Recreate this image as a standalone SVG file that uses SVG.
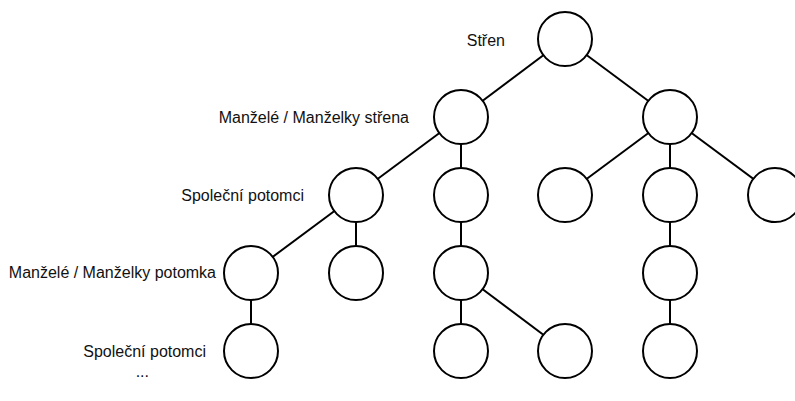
<svg xmlns="http://www.w3.org/2000/svg" width="795" height="401" viewBox="0 0 795 401">
<style>
.n{fill:#fff;stroke:#000;stroke-width:2}
.e{stroke:#000;stroke-width:2;fill:none}
.t{font-family:"Liberation Sans",Arial,sans-serif;font-size:16px;fill:#111;text-anchor:end;dominant-baseline:central}
</style>
<rect width="795" height="401" fill="#fff"/>
<g id="connectors">
<line class="e" x1="565" y1="39" x2="461" y2="117"/>
<line class="e" x1="565" y1="39" x2="670" y2="117"/>
<line class="e" x1="461" y1="117" x2="356" y2="195"/>
<line class="e" x1="461" y1="117" x2="461" y2="195"/>
<line class="e" x1="670" y1="117" x2="565" y2="195"/>
<line class="e" x1="670" y1="117" x2="670" y2="195"/>
<line class="e" x1="670" y1="117" x2="775" y2="195"/>
<line class="e" x1="356" y1="195" x2="251" y2="273"/>
<line class="e" x1="356" y1="195" x2="356" y2="273"/>
<line class="e" x1="461" y1="195" x2="461" y2="273"/>
<line class="e" x1="670" y1="195" x2="670" y2="273"/>
<line class="e" x1="251" y1="273" x2="251" y2="351"/>
<line class="e" x1="461" y1="273" x2="461" y2="351"/>
<line class="e" x1="461" y1="273" x2="565" y2="351"/>
<line class="e" x1="670" y1="273" x2="670" y2="351"/>
</g>
<g id="n1"><circle class="n" cx="565" cy="39" r="27"/></g>
<g id="n2"><circle class="n" cx="461" cy="117" r="27"/></g>
<g id="n3"><circle class="n" cx="670" cy="117" r="27"/></g>
<g id="n4"><circle class="n" cx="356" cy="195" r="27"/></g>
<g id="n5"><circle class="n" cx="461" cy="195" r="27"/></g>
<g id="n6"><circle class="n" cx="565" cy="195" r="27"/></g>
<g id="n7"><circle class="n" cx="670" cy="195" r="27"/></g>
<g id="n8"><circle class="n" cx="775" cy="195" r="27"/></g>
<g id="n9"><circle class="n" cx="251" cy="273" r="27"/></g>
<g id="n10"><circle class="n" cx="356" cy="273" r="27"/></g>
<g id="n11"><circle class="n" cx="461" cy="273" r="27"/></g>
<g id="n12"><circle class="n" cx="670" cy="273" r="27"/></g>
<g id="n13"><circle class="n" cx="251" cy="351" r="27"/></g>
<g id="n14"><circle class="n" cx="461" cy="351" r="27"/></g>
<g id="n15"><circle class="n" cx="565" cy="351" r="27"/></g>
<g id="n16"><circle class="n" cx="670" cy="351" r="27"/></g>
<g id="labels">
<text class="t" x="505" y="40">Střen</text>
<text class="t" x="409" y="117">Manželé / Manželky střena</text>
<text class="t" x="304" y="195">Společní potomci</text>
<text class="t" x="216" y="272">Manželé / Manželky potomka</text>
<text class="t" x="206" y="351">Společní potomci</text>
<text class="t" x="149" y="371">...</text>
</g>
</svg>
